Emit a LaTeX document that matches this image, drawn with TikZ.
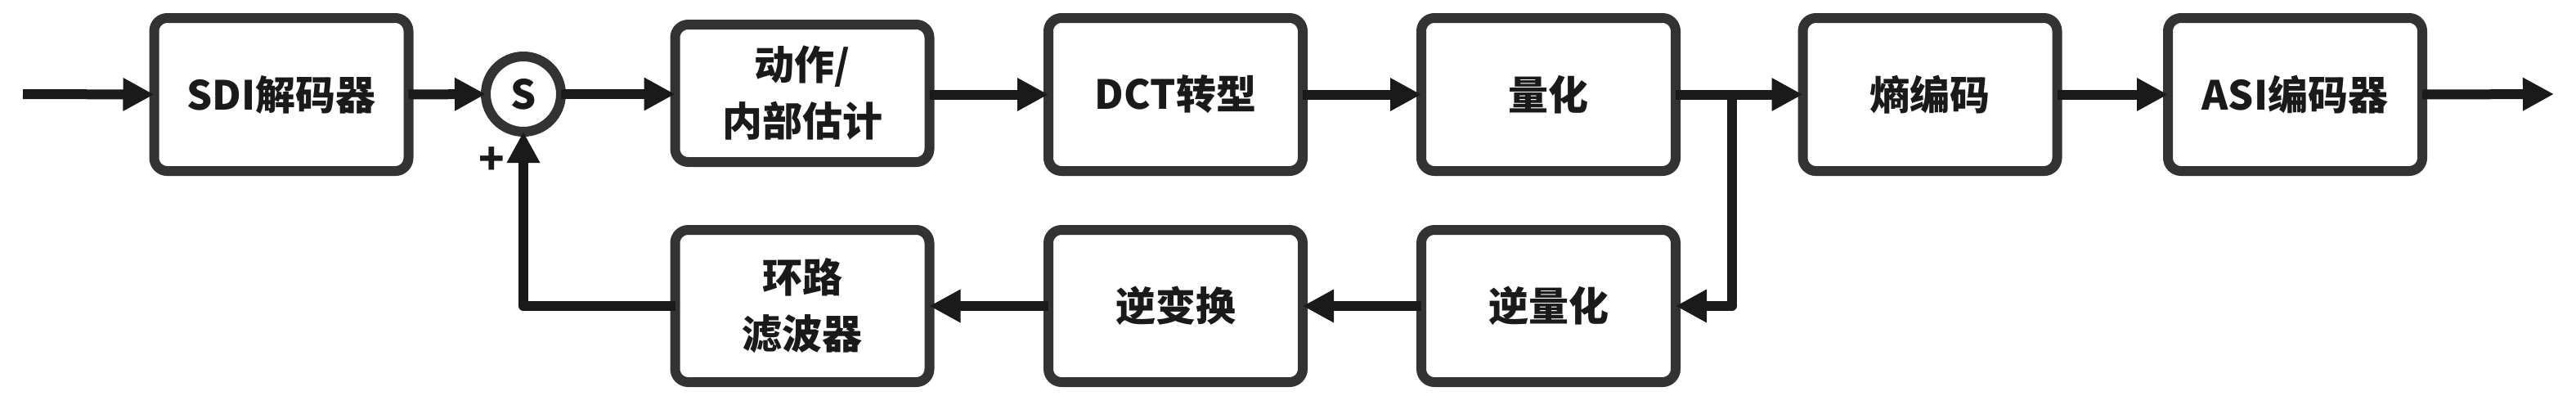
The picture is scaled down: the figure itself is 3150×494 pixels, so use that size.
\documentclass[tikz,border=0pt]{standalone}
\usepackage{fontspec}
\setmainfont{Noto Sans CJK SC}
\usetikzlibrary{arrows.meta}
\definecolor{boxline}{HTML}{333333}
\definecolor{arrowc}{HTML}{1A1A1A}
\tikzset{
  blk/.style={draw=boxline, line width=6pt, rounded corners=8pt, fill=white,
    minimum width=155.5pt, minimum height=93.5pt, outer sep=0pt, inner sep=0pt,
    align=center, text=arrowc,
    font=\fontsize{24.5pt}{34.5pt}\selectfont\bfseries},
  lowblk/.style={blk, minimum height=93pt},
  sumnode/.style={circle, draw=boxline, line width=6pt, fill=white,
    minimum size=46pt, inner sep=0pt, outer sep=0pt, text=arrowc,
    font=\fontsize{24.5pt}{30pt}\selectfont\bfseries},
  flow/.style={draw=arrowc, line width=6pt, line join=round,
    -{Triangle[length=19pt,width=19pt]}},
  signlabel/.style={text=arrowc, font=\fontsize{26pt}{30pt}\selectfont\bfseries, inner sep=0pt}
}
\begin{document}
\begin{tikzpicture}[x=0.5pt,y=-0.5pt]
\useasboundingbox (0,0) rectangle (3150,494);
% top row
\node[blk] (sdi) at (344,115.5) {SDI解码器};
\node[sumnode] (sum) at (640,115) {S};
\node[blk, minimum height=84pt] (motion) at (981,114) {动作/\\内部估计};
\node[blk] (dct) at (1437.5,115.5) {DCT转型};
\node[blk] (quant) at (1893.5,115.5) {量化};
\node[blk] (entropy) at (2360,115.5) {熵编码};
\node[blk] (asi) at (2806.5,115.5) {ASI编码器};
% bottom row
\node[lowblk] (loop) at (981,374) {环路\\滤波器};
\node[lowblk] (itrans) at (1437.5,374) {逆变换};
\node[lowblk] (iquant) at (1893.5,374) {逆量化};
% sign label
\node[signlabel] (plus) at (601,197) {+};
% free ends
\coordinate (in) at (28,115);
\coordinate (out) at (3123,115);
\coordinate (branch) at (2118,115);
% connectors
\draw[flow] (in) -- (sdi.west);
\draw[flow] (sdi.east) -- (sum.west);
\draw[flow] (sum.east) -- (motion.west |- sum.east);
\draw[flow] (motion.east |- dct.west) -- (dct.west);
\draw[flow] (dct.east) -- (quant.west);
\draw[flow] (quant.east) -- (entropy.west);
\draw[flow] (entropy.east) -- (asi.west);
\draw[flow] (asi.east) -- (out);
\draw[flow] (branch) |- (iquant.east);
\draw[flow] (iquant.west) -- (itrans.east);
\draw[flow] (itrans.west) -- (loop.east);
\draw[flow] (loop.west) -| (sum.south);
\end{tikzpicture}
\end{document}
